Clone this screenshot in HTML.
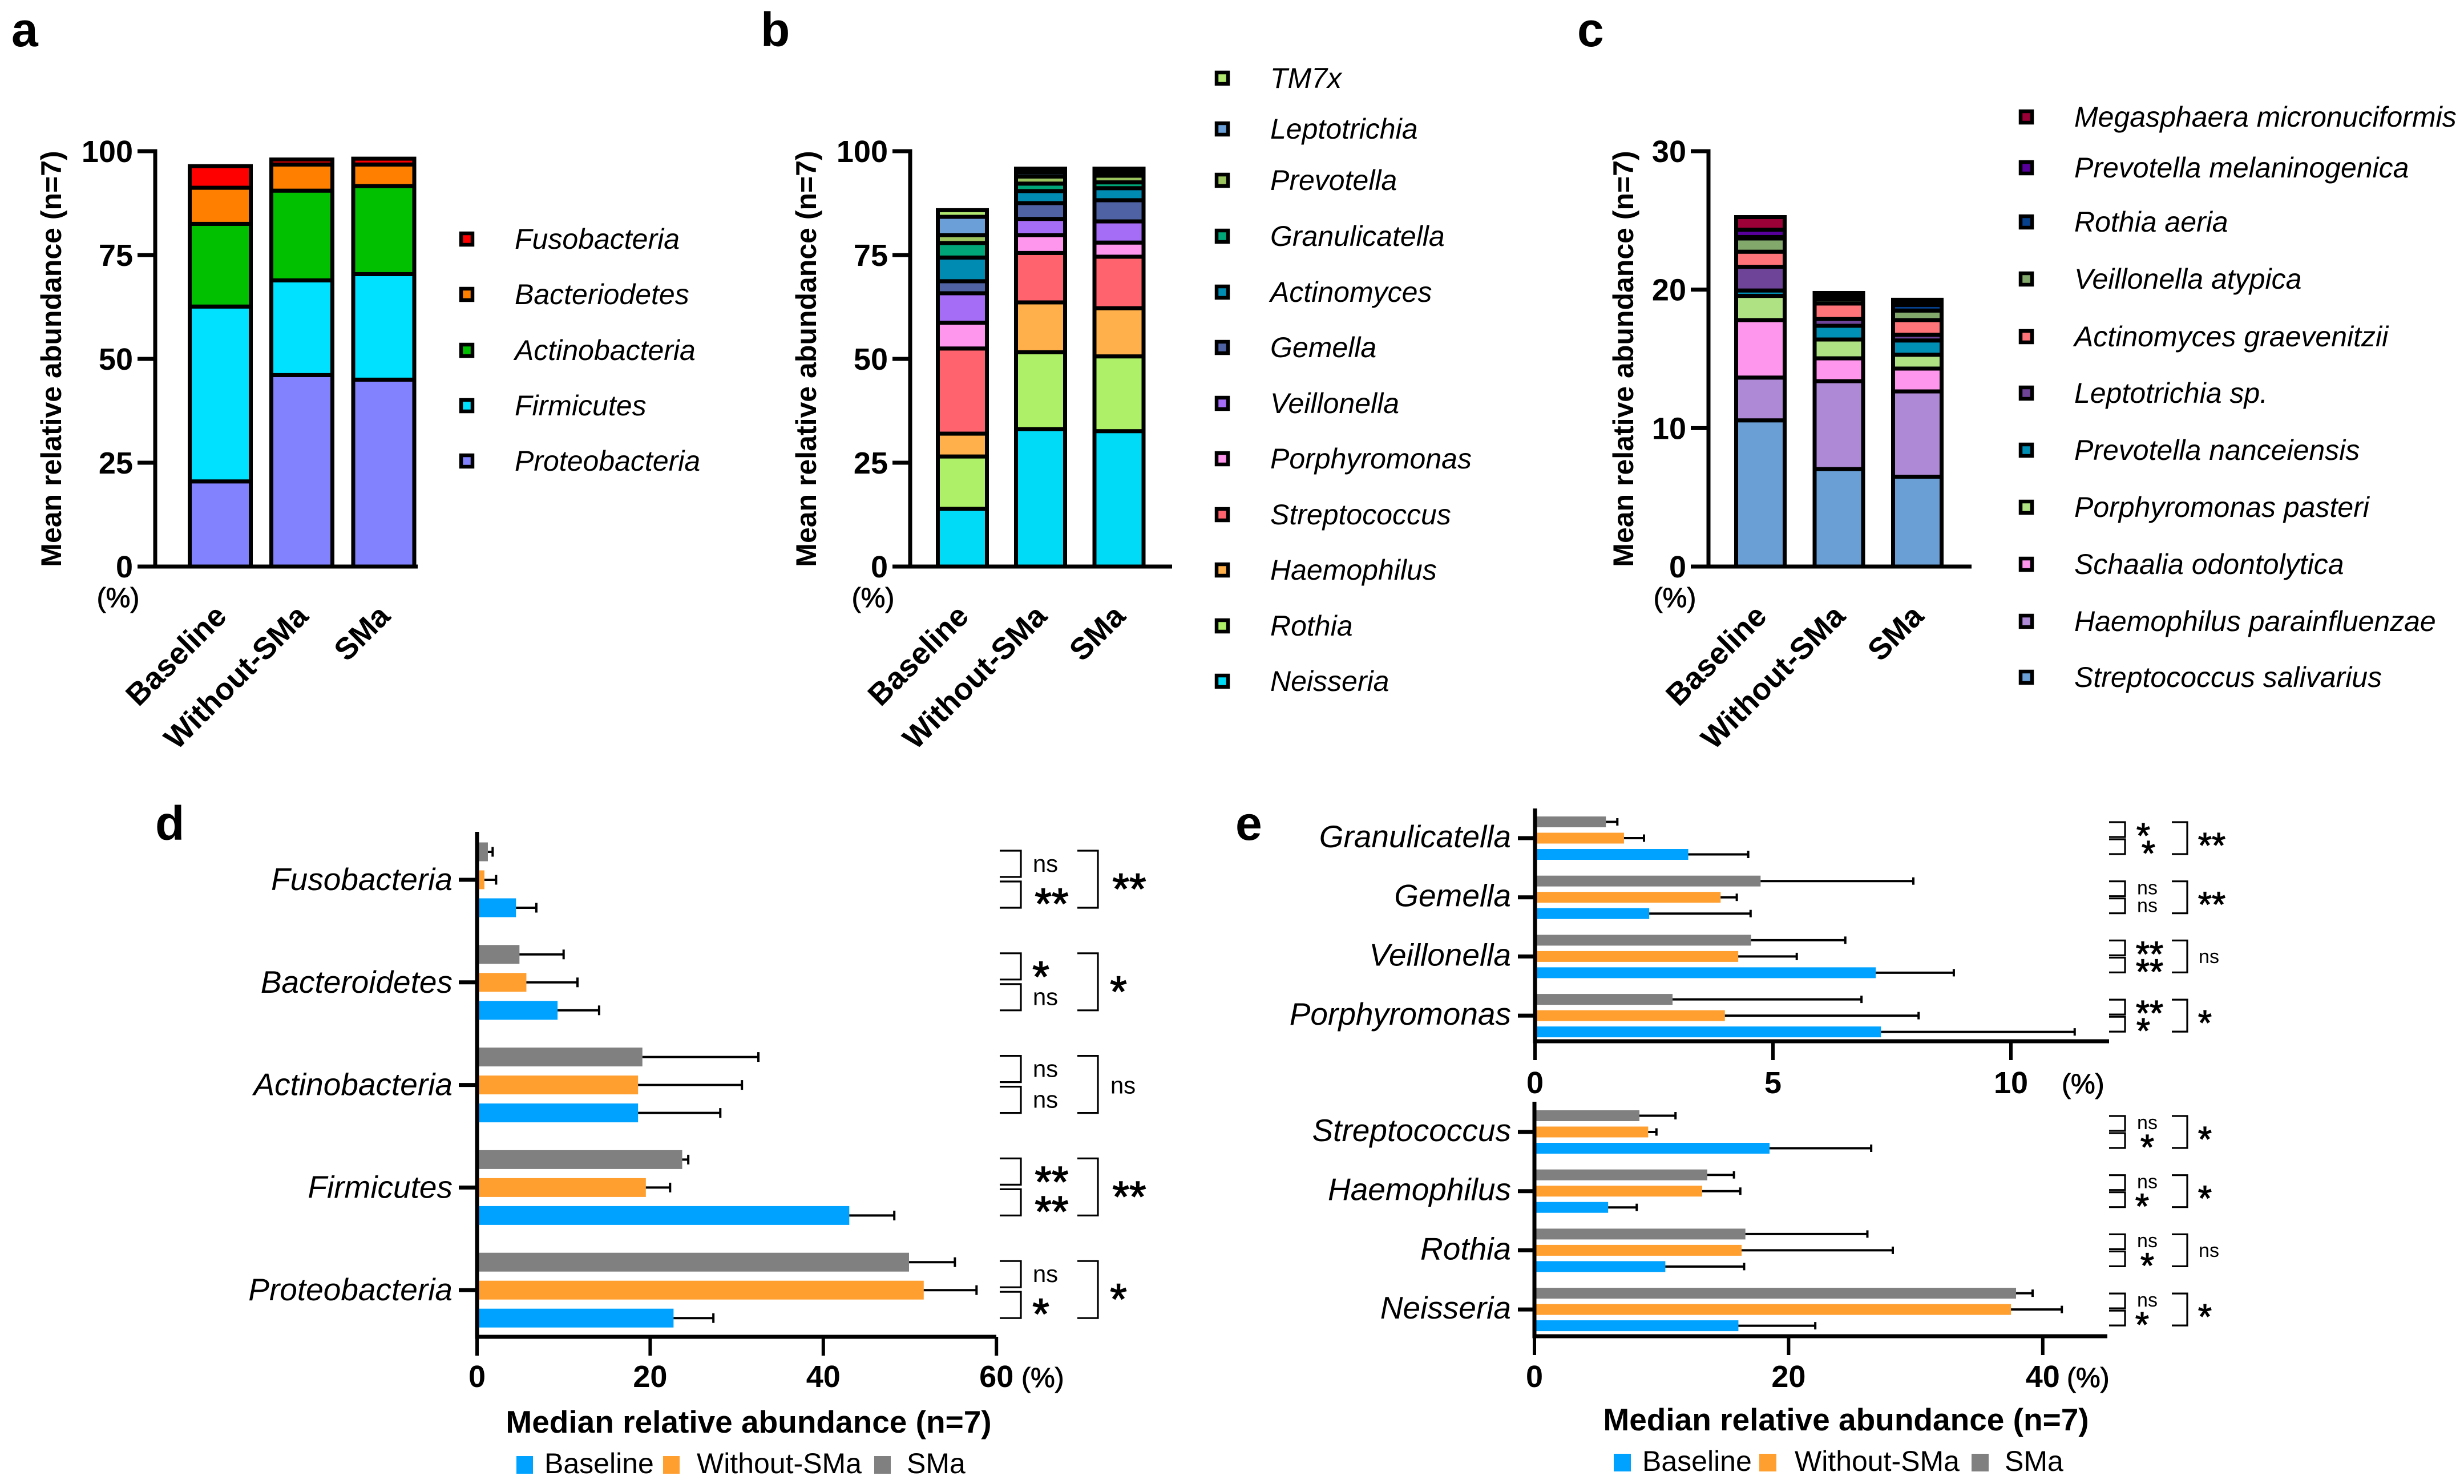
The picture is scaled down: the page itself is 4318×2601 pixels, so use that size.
<!DOCTYPE html>
<html lang="en">
<head>
<meta charset="utf-8">
<title>Relative abundance charts</title>
<style>
html,body{margin:0;padding:0;background:#fff;}
#figure{display:block;width:4318px;height:2601px;background:#fff;font-family:"Liberation Sans",Arial,sans-serif;}
</style>
</head>
<body>
<svg id="figure" xmlns="http://www.w3.org/2000/svg" width="4318" height="2601" viewBox="0 0 4318 2601"></svg>
<script>
// ---------- Shared categories ----------
const groupNames = ['Baseline', 'Without-SMa', 'SMa'];

// ---------- Panel a values (stack order bottom to top; Baseline, Without-SMa, SMa) ----------
const aTicks = [0, 25, 50, 75, 100];
const aProteobacteria = [20.5, 46.1, 45.0];
const aFirmicutes = [42.1, 22.8, 25.4];
const aActinobacteria = [19.9, 21.6, 21.2];
const aBacteriodetes = [8.7, 6.3, 5.2];
const aFusobacteria = [5.2, 1.2, 1.4];
const aNames = ['Proteobacteria', 'Firmicutes', 'Actinobacteria', 'Bacteriodetes', 'Fusobacteria'];
const aColors = ['#8282ff', '#00e0ff', '#00c000', '#ff8000', '#ff0000'];

// ---------- Panel b values ----------
const bTicks = [0, 25, 50, 75, 100];
const bNeisseria = [13.9, 33.1, 32.6];
const bRothia = [12.6, 18.5, 18.0];
const bHaemophilus = [5.5, 12.0, 11.6];
const bStreptococcus = [20.5, 11.9, 12.4];
const bPorphyromonas = [6.2, 4.3, 3.4];
const bVeillonella = [7.1, 3.9, 5.1];
const bGemella = [2.9, 3.8, 5.1];
const bActinomyces = [5.7, 2.9, 2.9];
const bGranulicatella = [3.5, 1.8, 1.4];
const bPrevotella = [1.9, 1.7, 1.6];
const bLeptotrichia = [4.4, 1.0, 0.9];
const bTM7x = [1.6, 0.9, 0.8];
const bNames = ['Neisseria', 'Rothia', 'Haemophilus', 'Streptococcus', 'Porphyromonas', 'Veillonella', 'Gemella', 'Actinomyces', 'Granulicatella', 'Prevotella', 'Leptotrichia', 'TM7x'];
const bColors = ['#00dcf8', '#aef067', '#ffb04a', '#ff636e', '#ff96ee', '#a56cf5', '#4f62a3', '#008bb3', '#00a678', '#9bc45f', '#6a9fd8', '#b0e870'];

// ---------- Panel c values ----------
const cTicks = [0, 10, 20, 30];
const cStrepSalivarius = [10.56, 7.04, 6.49];
const cHaemParainfluenzae = [3.09, 6.35, 6.16];
const cSchaaliaOdontolytica = [4.15, 1.65, 1.65];
const cPorphPasteri = [1.75, 1.36, 1.0];
const cPrevNanceiensis = [0.39, 0.99, 1.03];
const cLeptotrichiaSp = [1.71, 0.49, 0.41];
const cActinomycesGraevenitzii = [1.09, 1.12, 1.06];
const cVeillonellaAtypica = [0.96, 0.3, 0.69];
const cRothiaAeria = [0.1, 0.2, 0.41];
const cPrevMelaninogenica = [0.53, 0.13, 0.2];
const cMegasphaera = [0.91, 0.13, 0.17];
const cNames = ['Streptococcus salivarius', 'Haemophilus parainfluenzae', 'Schaalia odontolytica', 'Porphyromonas pasteri', 'Prevotella nanceiensis', 'Leptotrichia sp.', 'Actinomyces graevenitzii', 'Veillonella atypica', 'Rothia aeria', 'Prevotella melaninogenica', 'Megasphaera micronuciformis'];
const cColors = ['#6a9fd6', '#ae8ad6', '#ff96ee', '#aee283', '#008fb5', '#6e4499', '#ff7478', '#82a86c', '#06418e', '#57009b', '#9b0036'];

// ---------- Panel d values (groups listed top to bottom) ----------
const dCategories = ['Fusobacteria', 'Bacteroidetes', 'Actinobacteria', 'Firmicutes', 'Proteobacteria'];
const dTicks = [0, 20, 40, 60];
const dSMa = [1.25, 4.9, 19.1, 23.7, 49.9];
const dSMaUpper = [1.8, 10.0, 32.5, 24.4, 55.2];
const dWithout = [0.85, 5.7, 18.6, 19.5, 51.6];
const dWithoutUpper = [2.2, 11.6, 30.6, 22.3, 57.7];
const dBaseline = [4.5, 9.3, 18.6, 43.0, 22.7];
const dBaselineUpper = [6.85, 14.1, 28.1, 48.2, 27.3];
const dSigTop = ['ns', '*', 'ns', '**', 'ns'];
const dSigBottom = ['**', 'ns', 'ns', '**', '*'];
const dSigOverall = ['**', '*', 'ns', '**', '*'];

// ---------- Panel e upper values ----------
const e1Categories = ['Granulicatella', 'Gemella', 'Veillonella', 'Porphyromonas'];
const e1Ticks = [0, 5, 10];
const e1SMa = [1.49, 4.74, 4.54, 2.89];
const e1SMaUpper = [1.73, 7.95, 6.52, 6.86];
const e1Without = [1.87, 3.9, 4.27, 3.99];
const e1WithoutUpper = [2.29, 4.24, 5.5, 8.06];
const e1Baseline = [3.22, 2.4, 7.16, 7.27];
const e1BaselineUpper = [4.48, 4.53, 8.8, 11.34];
const e1SigTop = ['*', 'ns', '**', '**'];
const e1SigBottom = ['*', 'ns', '**', '*'];
const e1SigOverall = ['**', '**', 'ns', '*'];

// ---------- Panel e lower values ----------
const e2Categories = ['Streptococcus', 'Haemophilus', 'Rothia', 'Neisseria'];
const e2Ticks = [0, 20, 40];
const e2SMa = [8.26, 13.6, 16.6, 37.9];
const e2SMaUpper = [11.1, 15.7, 26.2, 39.2];
const e2Without = [8.95, 13.2, 16.3, 37.5];
const e2WithoutUpper = [9.6, 16.2, 28.2, 41.5];
const e2Baseline = [18.5, 5.8, 10.3, 16.05];
const e2BaselineUpper = [26.5, 8.05, 16.5, 22.1];
const e2SigTop = ['ns', 'ns', 'ns', 'ns'];
const e2SigBottom = ['*', '*', '*', '*'];
const e2SigOverall = ['*', '*', 'ns', '*'];

const colBlue = '#00a2ff';
const colOrange = '#ff9f30';
const colGray = '#808080';

const NS = 'http://www.w3.org/2000/svg';
const root = document.getElementById('figure');

function mk(parent, tag, attrs, name, text) {
  const el = document.createElementNS(NS, tag);
  for (const k in attrs) el.setAttribute(k, attrs[k]);
  
  
  if (text !== undefined) el.textContent = text;
  parent.appendChild(el);
  return el;
}
function slug(s) { return s.toLowerCase().replace(/[^a-z0-9]+/g, '-').replace(/-$/, ''); }
function line(p, x1, y1, x2, y2, w, name) {
  return mk(p, 'line', { x1: x1, y1: y1, x2: x2, y2: y2, stroke: '#000', 'stroke-width': w }, name);
}
function txt(p, x, y, s, size, opts, name) {
  const o = opts || {};
  const a = { x: x, y: y, 'font-size': size, fill: '#000', 'font-family': '"Liberation Sans",Arial,sans-serif' };
  if (o.bold) a['font-weight'] = 'bold';
  if (o.italic) a['font-style'] = 'italic';
  if (o.anchor) a['text-anchor'] = o.anchor;
  if (o.transform) a.transform = o.transform;
  if (o.stroke) { a.stroke = '#000'; a['stroke-width'] = o.stroke; }
  return mk(p, 'text', a, name, s);
}

// ---------- Stacked bar panels ----------
function stacked(cfg) {
  const g = mk(root, 'g', {}, cfg.id);
  const y = v => cfg.y0 - v * (cfg.y0 - cfg.yTop) / cfg.max;
  const innerW = cfg.barW - 7;
  cfg.centers.forEach((cx, i) => {
    let cum = 0;
    cfg.series.forEach((vals, s) => {
      const top = y(cum + vals[i]);
      const bot = y(cum);
      mk(g, 'rect', { x: cx - innerW / 2, y: top, width: innerW, height: bot - top, fill: cfg.colors[s], stroke: '#000', 'stroke-width': 7 }, 'bar-' + slug(groupNames[i]) + '-' + slug(cfg.names[s]));
      cum += vals[i];
    });
    txt(g, cx + 14, 1083, groupNames[i], 54, { bold: true, anchor: 'end', transform: 'rotate(-45 ' + (cx + 14) + ' 1083)' }, 'x-label-' + slug(groupNames[i]));
  });
  line(g, cfg.axisX, cfg.yTop - 3.5, cfg.axisX, cfg.y0 + 3.5, 7, 'y-axis');
  line(g, cfg.axisX - 3.5, cfg.y0, cfg.axisEnd, cfg.y0, 7, 'x-axis');
  cfg.ticks.forEach(t => {
    line(g, cfg.axisX - 31, y(t), cfg.axisX, y(t), 7, 'y-tick-' + t);
    txt(g, cfg.axisX - 39, y(t) + 19, String(t), 54, { bold: true, anchor: 'end' }, 'y-tick-label-' + t);
  });
  txt(g, cfg.titleX, 629, 'Mean relative abundance (n=7)', 50, { bold: true, anchor: 'middle', transform: 'rotate(-90 ' + cfg.titleX + ' 629)' }, 'y-axis-title');
  txt(g, cfg.pctX, 1064, '(%)', 48, { anchor: 'middle', stroke: 0.9 }, 'y-unit-label');
  txt(g, cfg.letterX, 81, cfg.letter, 84, { bold: true }, 'panel-label-' + cfg.letter);
  cfg.names.forEach((n, s) => {
    const ly = cfg.legendY[s];
    mk(g, 'rect', { x: cfg.legendX - 10, y: ly - 10, width: 20, height: 20, fill: cfg.colors[s], stroke: '#000', 'stroke-width': 6.5 }, 'legend-swatch-' + slug(n));
    txt(g, cfg.legendTextX, ly + 17, n, 50, { italic: true }, 'legend-label-' + slug(n));
  });
}

stacked({
  id: 'panel-a', letter: 'a', letterX: 20, y0: 993, yTop: 265, max: 100, axisX: 272, axisEnd: 732,
  centers: [386, 529, 672.5], barW: 114, titleX: 107, pctX: 207, ticks: aTicks,
  series: [aProteobacteria, aFirmicutes, aActinobacteria, aBacteriodetes, aFusobacteria],
  names: aNames, colors: aColors, legendX: 818, legendTextX: 902,
  legendY: [808, 711, 614, 516, 419]
});
stacked({
  id: 'panel-b', letter: 'b', letterX: 1333, y0: 993, yTop: 265, max: 100, axisX: 1595, axisEnd: 2054,
  centers: [1686.5, 1823.5, 1961], barW: 93, titleX: 1430, pctX: 1530, ticks: bTicks,
  series: [bNeisseria, bRothia, bHaemophilus, bStreptococcus, bPorphyromonas, bVeillonella, bGemella, bActinomyces, bGranulicatella, bPrevotella, bLeptotrichia, bTM7x],
  names: bNames, colors: bColors, legendX: 2142, legendTextX: 2226,
  legendY: [1194, 1097, 999, 902, 804, 707, 609, 512, 414, 316, 226, 137]
});
stacked({
  id: 'panel-c', letter: 'c', letterX: 2764, y0: 993, yTop: 265, max: 30, axisX: 2994, axisEnd: 3455,
  centers: [3085, 3222.5, 3360], barW: 92, titleX: 2862, pctX: 2935, ticks: cTicks,
  series: [cStrepSalivarius, cHaemParainfluenzae, cSchaaliaOdontolytica, cPorphPasteri, cPrevNanceiensis, cLeptotrichiaSp, cActinomycesGraevenitzii, cVeillonellaAtypica, cRothiaAeria, cPrevMelaninogenica, cMegasphaera],
  names: cNames, colors: cColors, legendX: 3551, legendTextX: 3635,
  legendY: [1187, 1089, 989, 889, 789, 689, 590, 489, 389, 294, 205]
});

// ---------- Horizontal bar panels ----------
function hbars(g, cfg) {
  const x = v => cfg.axisX + v * cfg.pxPerUnit;
  const tier = [
    { vals: cfg.sma, up: cfg.smaUp, col: colGray, off: -cfg.step, nm: 'sma' },
    { vals: cfg.wo, up: cfg.woUp, col: colOrange, off: 0, nm: 'without-sma' },
    { vals: cfg.base, up: cfg.baseUp, col: colBlue, off: cfg.step, nm: 'baseline' }
  ];
  cfg.categories.forEach((c, i) => {
    const yc = cfg.groupY0 + i * cfg.groupStep;
    tier.forEach(t => {
      const by = yc + t.off;
      mk(g, 'rect', { x: cfg.axisX, y: by - cfg.barH / 2, width: x(t.vals[i]) - cfg.axisX, height: cfg.barH, fill: t.col }, 'bar-' + slug(c) + '-' + t.nm);
      line(g, x(t.vals[i]), by, x(t.up[i]), by, 4, 'error-bar-' + slug(c) + '-' + t.nm);
      line(g, x(t.up[i]), by - cfg.cap / 2, x(t.up[i]), by + cfg.cap / 2, 4, 'error-cap-' + slug(c) + '-' + t.nm);
    });
    line(g, cfg.tickLeft, yc, cfg.axisX, yc, 7, 'y-tick-' + slug(c));
    txt(g, cfg.labelRight, yc + cfg.labelDrop, c, 55, { italic: true, anchor: 'end' }, 'category-label-' + slug(c));
  });
  line(g, cfg.axisX, cfg.axisTop, cfg.axisX, cfg.axisY + 3.5, 7, 'y-axis');
  line(g, cfg.axisX - 3.5, cfg.axisY, cfg.axisEnd, cfg.axisY, 7, 'x-axis');
  cfg.ticks.forEach(t => {
    line(g, x(t), cfg.axisY, x(t), cfg.axisY + 33, 6, 'x-tick-' + t);
    txt(g, x(t), cfg.tickBase, String(t), 54, { bold: true, anchor: 'middle' }, 'x-tick-label-' + t);
  });
  txt(g, cfg.pctX, cfg.tickBase, '(%)', 48, { stroke: 0.9 }, 'x-unit-label');
}
function bracket(g, x1, x2, y1, y2, name) {
  mk(g, 'path', { d: 'M' + x1 + ' ' + y1 + 'H' + x2 + 'V' + y2 + 'H' + x1, fill: 'none', stroke: '#000', 'stroke-width': 3.2 }, name);
}
function mark(g, x, yc, s, nsSize, starSize, name) {
  if (s === 'ns') {
    txt(g, x, yc + nsSize * 0.26, s, nsSize, { anchor: 'middle' }, name);
  } else {
    txt(g, x, yc + starSize * 0.50, s, starSize, { anchor: 'middle', stroke: starSize * 0.02 }, name);
  }
}
function legend(g, items, textBase, boxTop, boxH, boxW) {
  items.forEach(it => {
    mk(g, 'rect', { x: it[0], y: boxTop, width: boxW, height: boxH, fill: it[1] }, 'legend-swatch-' + slug(it[3]));
    txt(g, it[2], textBase, it[3], 50, {}, 'legend-label-' + slug(it[3]));
  });
}

// Panel d
const gd = mk(root, 'g', {}, 'panel-d');
txt(gd, 272, 1472, 'd', 84, { bold: true }, 'panel-label-d');
hbars(gd, {
  categories: dCategories, sma: dSMa, smaUp: dSMaUpper, wo: dWithout, woUp: dWithoutUpper, base: dBaseline, baseUp: dBaselineUpper,
  axisX: 836, pxPerUnit: 15.17, groupY0: 1542, groupStep: 179.8, step: 49, barH: 33, cap: 17, labelDrop: 18,
  tickLeft: 804, labelRight: 793, axisTop: 1458, axisY: 2343, axisEnd: 1746, ticks: dTicks, tickBase: 2431, pctX: 1790
});
dCategories.forEach((c, i) => {
  const yc = 1542 + i * 179.8;
  bracket(gd, 1752, 1789, yc - 51, yc - 5, 'bracket-top-' + slug(c));
  bracket(gd, 1752, 1789, yc + 3, yc + 49, 'bracket-bottom-' + slug(c));
  bracket(gd, 1888, 1924, yc - 51, yc + 49, 'bracket-overall-' + slug(c));
  const sx = s => s === 'ns' ? 1832 : (s === '*' ? 1824 : 1843);
  mark(gd, sx(dSigTop[i]), yc + (dSigTop[i] === 'ns' ? -25 : -22), dSigTop[i], 42, 76, 'significance-top-' + slug(c));
  mark(gd, sx(dSigBottom[i]), yc + (dSigBottom[i] === 'ns' ? 29 : 30), dSigBottom[i], 42, 76, 'significance-bottom-' + slug(c));
  const o = dSigOverall[i];
  mark(gd, o === 'ns' ? 1968 : (o === '*' ? 1960 : 1979), yc + 4, o, 42, 76, 'significance-overall-' + slug(c));
});
txt(gd, 1312, 2511, 'Median relative abundance (n=7)', 55, { bold: true, anchor: 'middle' }, 'x-axis-title');
legend(gd, [[905, colBlue, 954, 'Baseline'], [1162, colOrange, 1221, 'Without-SMa'], [1532, colGray, 1589, 'SMa']], 2582, 2552, 31, 29);

// Panel e
const ge = mk(root, 'g', {}, 'panel-e');
txt(ge, 2165, 1472, 'e', 84, { bold: true }, 'panel-label-e');
hbars(ge, {
  categories: e1Categories, sma: e1SMa, smaUp: e1SMaUpper, wo: e1Without, woUp: e1WithoutUpper, base: e1Baseline, baseUp: e1BaselineUpper,
  axisX: 2690, pxPerUnit: 83.4, groupY0: 1469, groupStep: 103.7, step: 28.5, barH: 19, cap: 13, labelDrop: 16,
  tickLeft: 2660, labelRight: 2648, axisTop: 1417, axisY: 1825, axisEnd: 3696, ticks: e1Ticks, tickBase: 1916, pctX: 3613
});
hbars(ge, {
  categories: e2Categories, sma: e2SMa, smaUp: e2SMaUpper, wo: e2Without, woUp: e2WithoutUpper, base: e2Baseline, baseUp: e2BaselineUpper,
  axisX: 2689, pxPerUnit: 22.27, groupY0: 1984, groupStep: 103.7, step: 28.5, barH: 19, cap: 13, labelDrop: 16,
  tickLeft: 2660, labelRight: 2648, axisTop: 1931, axisY: 2342, axisEnd: 3693, ticks: e2Ticks, tickBase: 2431, pctX: 3622
});
function sigE(cats, y0, top, bottom, overall, starTopX, starBotX) {
  cats.forEach((c, i) => {
    const yc = y0 + i * 103.7;
    bracket(ge, 3696, 3724, yc - 28, yc - 2, 'bracket-top-' + slug(c));
    bracket(ge, 3696, 3724, yc + 2, yc + 28, 'bracket-bottom-' + slug(c));
    bracket(ge, 3806, 3833, yc - 28, yc + 28, 'bracket-overall-' + slug(c));
    const tx = top[i] === 'ns' ? 3763 : (top[i] === '*' ? starTopX[i] : 3767);
    const bx = bottom[i] === 'ns' ? 3763 : (bottom[i] === '*' ? starBotX[i] : 3767);
    mark(ge, tx, yc - 14, top[i], 34, 62, 'significance-top-' + slug(c));
    mark(ge, bx, yc + 17, bottom[i], 34, 62, 'significance-bottom-' + slug(c));
    const o = overall[i];
    mark(ge, o === 'ns' ? 3871 : (o === '*' ? 3864 : 3876), yc + 3, o, 34, 62, 'significance-overall-' + slug(c));
  });
}
sigE(e1Categories, 1469, e1SigTop, e1SigBottom, e1SigOverall, [3756, 3756, 3756, 3756], [3765, 3756, 3756, 3756]);
sigE(e2Categories, 1984, e2SigTop, e2SigBottom, e2SigOverall, [3756, 3756, 3756, 3756], [3763, 3754, 3763, 3754]);
txt(ge, 3235, 2507, 'Median relative abundance (n=7)', 55, { bold: true, anchor: 'middle' }, 'x-axis-title');
legend(ge, [[2828, colBlue, 2878, 'Baseline'], [3083, colOrange, 3145, 'Without-SMa'], [3455, colGray, 3513, 'SMa']], 2578, 2548, 31, 30);
</script>
</body>
</html>
